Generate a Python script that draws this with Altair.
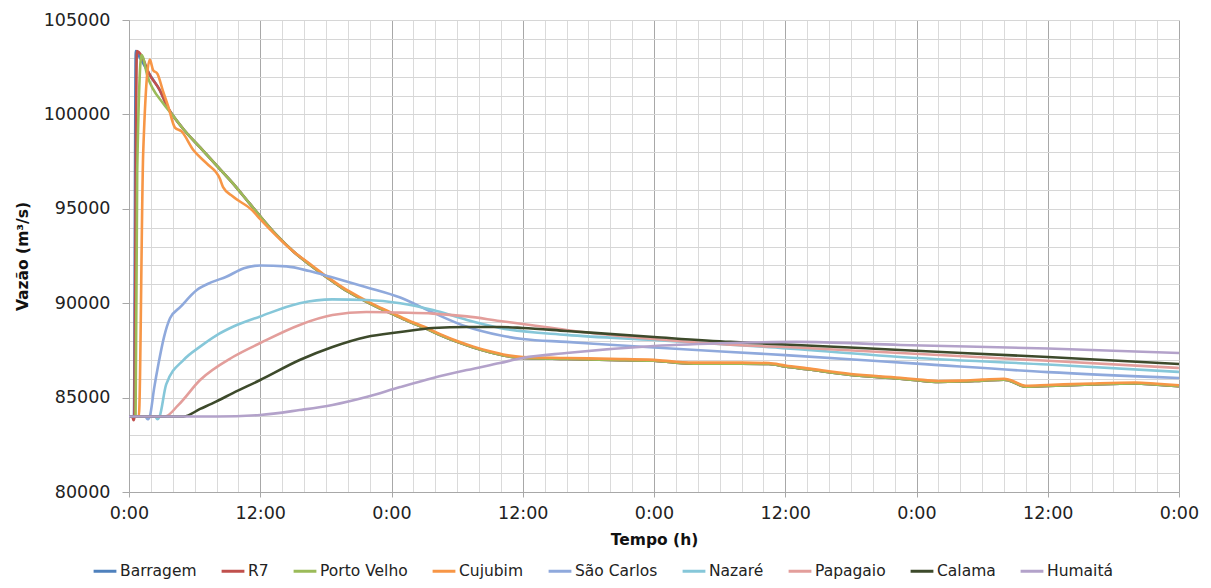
import altair as alt
import pandas as pd

series_names = ["Barragem", "R7", "Porto Velho", "Cujubim", "São Carlos",
                "Nazaré", "Papagaio", "Calama", "Humaitá"]
series_colors = ["#4F81BD", "#C0504D", "#9BBB59", "#F79646", "#8FA9DC",
                 "#86C7D9", "#E39E9B", "#3D4A2B", "#B3A2CA"]

# common recession (Porto Velho / Barragem / R7 after the peak)
tail_t = [4, 5, 6.5, 8, 9.5, 11, 12, 13.5, 15, 16.5, 18, 19.5, 21, 22.5, 24, 25.5, 27, 28.5, 30,
          31.5, 33, 34.5, 36, 40, 44, 48, 50, 52, 56, 58.5, 60, 62, 66, 70.5, 72, 74, 76, 78, 80,
          80.5, 82, 84, 88, 92, 94, 96]
tail_v = [99950, 99200, 98250, 97300, 96350, 95300, 94600, 93600, 92750, 92050, 91400, 90800,
          90300, 89850, 89450, 89050, 88700, 88300, 87950, 87650, 87400, 87200, 87100, 87050,
          87000, 86950, 86850, 86800, 86800, 86780, 86650, 86500, 86200, 86000, 85920, 85830,
          85850, 85900, 85950, 85900, 85580, 85620, 85700, 85750, 85680, 85600]

barragem_t = [0, 0.45, 0.62, 1.0, 1.9, 2.8, 3.6]
barragem_v = [84000, 84000, 103350, 103000, 102100, 101300, 100300]

r7_t = [0, 0.3, 0.42, 0.5, 0.62, 0.72, 1.2, 1.8, 2.8, 3.6]
r7_v = [84000, 84000, 83800, 84000, 97000, 103350, 103050, 102200, 101300, 100300]

pv_t = [0, 0.6, 0.75, 1.15, 1.7, 3.1]
pv_v = [84000, 84000, 97000, 103150, 102000, 100600]

cujubim_t = [0, 0.9, 1.3, 1.9, 2.2, 2.6, 3.1, 3.6, 4.2, 4.8, 5.9, 7.1, 8.3, 8.6, 9.5, 11.3, 12,
             13.5, 15, 16.5, 18, 19.5, 21, 22.5, 24, 25.5, 27, 28.5, 30, 31.5, 33, 34.5, 36, 40,
             44, 48, 50, 52, 56, 58.5, 60, 62, 66, 70.5, 72, 74, 76, 78, 80, 80.5, 82, 84, 88,
             92, 94, 96]
cujubim_v = [84000, 84000, 98000, 102900, 102350, 102150, 101250, 100400, 99300, 99100, 98100,
             97400, 96600, 96150, 95650, 94900, 94450, 93550, 92750, 92100, 91450, 90850, 90350,
             89900, 89500, 89100, 88750, 88350, 88000, 87700, 87450, 87250, 87150, 87100, 87050,
             87000, 86900, 86850, 86850, 86830, 86700, 86550, 86250, 86050, 85970, 85880, 85900,
             85950, 86000, 85950, 85630, 85670, 85750, 85800, 85730, 85650]

sao_carlos_t = [0, 1.5, 1.7, 1.9, 2.3, 2.7, 3.2, 3.75, 4.7, 6.2, 7.5, 8.9, 10.5, 12, 14.4, 16.5,
                18.4, 21.7, 24.8, 27.8, 30.9, 33.9, 36, 40, 48, 60, 72, 84, 96]
sao_carlos_v = [84000, 84000, 83850, 84000, 85500, 86800, 88200, 89200, 89800, 90700, 91100,
                91400, 91850, 92000, 91950, 91700, 91400, 90850, 90300, 89500, 88750, 88300,
                88100, 87950, 87650, 87250, 86800, 86350, 86040]

nazare_t = [0, 2.4, 2.6, 2.8, 3.4, 5, 6.5, 8, 9.5, 12, 15.6, 18.6, 21.7, 24.8, 27.8, 30.9, 33.9,
            40, 48, 58, 70.5, 84, 96]
nazare_v = [84000, 84000, 83850, 84000, 85700, 87000, 87700, 88300, 88750, 89300, 90000, 90200,
            90170, 90000, 89640, 89110, 88690, 88320, 88050, 87700, 87150, 86750, 86360]

papagaio_t = [0, 3.3, 4.5, 6.5, 9.5, 12, 15.6, 18.6, 21.7, 24.8, 27.8, 30.9, 33.9, 36, 40, 48,
              55, 61, 70.5, 84, 96]
papagaio_v = [84000, 84000, 84600, 85930, 87150, 87890, 88850, 89370, 89530, 89500, 89450, 89300,
              89060, 88900, 88580, 88100, 87800, 87650, 87360, 86950, 86570]

calama_t = [0, 5, 6.5, 8, 9.5, 12, 15.6, 18.6, 21.7, 24.8, 27.8, 30.9, 33.9, 36, 40, 48, 55, 61,
            70.5, 84, 96]
calama_v = [84000, 84000, 84400, 84800, 85240, 85930, 86990, 87680, 88210, 88470, 88690, 88740,
            88740, 88690, 88530, 88210, 87950, 87790, 87520, 87150, 86780]

humaita_t = [0, 8, 12, 15.6, 18.6, 21.7, 24.8, 27.8, 30.9, 33.9, 36, 40, 48, 55, 61, 70.5, 84, 96]
humaita_v = [84000, 84000, 84080, 84340, 84610, 85030, 85560, 86040, 86460, 86830, 87100, 87360,
             87730, 87890, 87950, 87790, 87600, 87360]

x_ticks = list(range(0, 97, 2))
y_ticks = list(range(80000, 105001, 1000))

series = [
    ("Barragem", barragem_t + tail_t, barragem_v + tail_v),
    ("R7", r7_t + tail_t, r7_v + tail_v),
    ("Porto Velho", pv_t + tail_t, pv_v + tail_v),
    ("Cujubim", cujubim_t, cujubim_v),
    ("São Carlos", sao_carlos_t, sao_carlos_v),
    ("Nazaré", nazare_t, nazare_v),
    ("Papagaio", papagaio_t, papagaio_v),
    ("Calama", calama_t, calama_v),
    ("Humaitá", humaita_t, humaita_v),
]
rows = []
for k, (name, ts, vs) in enumerate(series):
    for i, (t, v) in enumerate(zip(ts, vs)):
        rows.append({"serie": name, "ordem": k, "i": i, "t": t, "v": v})
df = pd.DataFrame(rows)

label_font = "DejaVu Sans"
legend_font = "DejaVu Sans"

x_axis = alt.Axis(
    values=x_ticks,
    labelExpr="datum.value % 24 === 0 ? '0:00' : (datum.value % 12 === 0 ? '12:00' : '')",
    title="Tempo (h)",
    grid=True,
    gridColor={"condition": {"test": "datum.value % 12 === 0", "value": "#A8A8A8"}, "value": "#DADADA"},
    gridWidth=1,
    tickOpacity={"condition": {"test": "datum.value % 12 === 0", "value": 1}, "value": 0},
    tickColor="#A8A8A8",
    tickSize=5,
    domainColor="#A8A8A8",
    labelFont=label_font,
    labelFontSize=17.5,
    labelColor="#222222",
    labelPadding=7,
    labelFlush=False,
    labelOverlap=False,
    titleFont=label_font,
    titleFontSize=15.5,
    titleFontWeight="bold",
    titleColor="#111111",
    titlePadding=11,
)
y_axis = alt.Axis(
    values=y_ticks,
    labelExpr="datum.value % 5000 === 0 ? datum.value : ''",
    title="Vazão (m³/s)",
    grid=True,
    gridColor="#D6D6D6",
    gridWidth=1,
    tickOpacity={"condition": {"test": "datum.value % 5000 === 0", "value": 1}, "value": 0},
    tickColor="#A8A8A8",
    tickSize=7,
    domainColor="#A8A8A8",
    labelFont=label_font,
    labelFontSize=17.5,
    labelColor="#222222",
    labelPadding=12,
    labelOverlap=False,
    labelFlush=False,
    titleFont=label_font,
    titleFontSize=15.5,
    titleFontWeight="bold",
    titleColor="#111111",
    titlePadding=13,
)

chart = alt.Chart(df).mark_line(strokeWidth=2.6, interpolate="monotone").encode(
    x=alt.X("t:Q", scale=alt.Scale(domain=[0, 96], nice=False, zero=False), axis=x_axis),
    y=alt.Y("v:Q", scale=alt.Scale(domain=[80000, 105000], nice=False, zero=False), axis=y_axis),
    color=alt.Color(
        "serie:N",
        scale=alt.Scale(domain=series_names, range=series_colors),
        legend=alt.Legend(
            title=None, orient="none", legendX=-37, legendY=538, direction="horizontal",
            symbolType="stroke", symbolSize=520, symbolStrokeWidth=3,
            labelFont=legend_font, labelFontSize=15.5, labelColor="#222222",
            labelOffset=2, columnPadding=18,
        ),
    ),
    detail="ordem:O",
    order="i:Q",
).properties(
    width=1050, height=472,
    autosize="none",
    padding={"left": 121, "top": 12, "right": 22, "bottom": 88},
).configure_view(stroke=None)

chart.save("out.html", embed_options={"renderer": "svg", "actions": False})
